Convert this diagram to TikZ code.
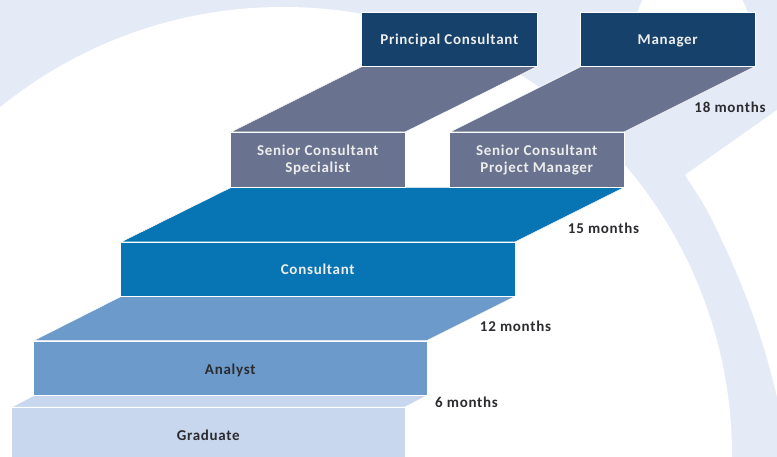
\documentclass[tikz,border=0pt]{standalone}
\usepackage{fontspec}
\setmainfont{Carlito}[LetterSpace=4.8]
\definecolor{bgblue}{HTML}{E5EBF6}
\definecolor{navy}{HTML}{16416A}
\definecolor{slate}{HTML}{69738F}
\definecolor{deep}{HTML}{0774B4}
\definecolor{mid}{HTML}{6C9BCB}
\definecolor{pale}{HTML}{C8D7ED}
\definecolor{ink}{HTML}{2B2B30}
\tikzset{
  boxbase/.style={draw=white,line width=0.9pt,inner sep=0pt,outer sep=0pt,anchor=north west,align=center,
    font=\fontsize{15pt}{17pt}\selectfont\bfseries},
  lightbox/.style={boxbase,text=white!93!black},
  darkbox/.style={boxbase,text=ink},
  oneline/.style={text height=11pt,text depth=0pt},
  monthlabel/.style={text=ink,inner sep=0pt,font=\fontsize{15pt}{17pt}\selectfont\bfseries},
  ramp/.style={draw=white,line width=0.5pt}
}
\begin{document}
\begin{tikzpicture}[x=1pt,y=-1pt]
\useasboundingbox (0,0) rectangle (777,457);
\clip (0,0) rectangle (777,457);
\fill[bgblue] (0,0) rectangle (777,457);
\fill[white] (283,456) circle[radius=449];
\fill[white] (692.5,27.7) circle[radius=57];
\fill[white] (685,175) -- (777,110) -- (790,110) -- (790,440) -- (777,397)
  .. controls (766,350) and (750,298) .. (717,230) .. controls (708,210) and (697,193) .. (685,175) -- cycle;
% ramps
\filldraw[ramp,fill=slate] (362,66.5) -- (537,66.5) -- (405,132) -- (231,132) -- cycle;
\filldraw[ramp,fill=slate] (581,66.5) -- (755,66.5) -- (624,132) -- (450,132) -- cycle;
\filldraw[ramp,fill=deep] (231,187.5) -- (624,187.5) -- (515,242) -- (121,242) -- cycle;
\filldraw[ramp,fill=mid] (121,296.5) -- (515,296.5) -- (427,340.5) -- (34,340.5) -- cycle;
\filldraw[ramp,fill=pale] (34,395.5) -- (427,395.5) -- (405,407) -- (12,407) -- cycle;
% boxes
\node[lightbox,oneline,fill=navy,minimum width=175.5pt,minimum height=54pt] (principal) at (361.5,12.5) {Principal Consultant};
\node[lightbox,oneline,fill=navy,minimum width=174.5pt,minimum height=54pt] (manager) at (580.5,12.5) {Manager};
\node[lightbox,fill=slate,minimum width=174.5pt,minimum height=55pt] (specialist) at (230.5,132.5) {Senior Consultant\\Specialist};
\node[lightbox,fill=slate,minimum width=174.5pt,minimum height=55pt] (projman) at (449.5,132.5) {Senior Consultant\\Project Manager};
\node[lightbox,oneline,fill=deep,minimum width=394.5pt,minimum height=54pt] (consultant) at (120.5,242.5) {Consultant};
\node[darkbox,oneline,text height=12pt,fill=mid,minimum width=393.5pt,minimum height=54pt] (analyst) at (33.5,341) {Analyst};
\node[darkbox,oneline,fill=pale,minimum width=393.5pt,minimum height=55pt] (graduate) at (11.5,407.5) {Graduate};
% labels
\node[monthlabel] (m18) at (730,107) {18 months};
\node[monthlabel] (m15) at (603.5,228) {15 months};
\node[monthlabel] (m12) at (515.5,326) {12 months};
\node[monthlabel] (m6) at (466.5,402) {6 months};
\end{tikzpicture}
\end{document}
